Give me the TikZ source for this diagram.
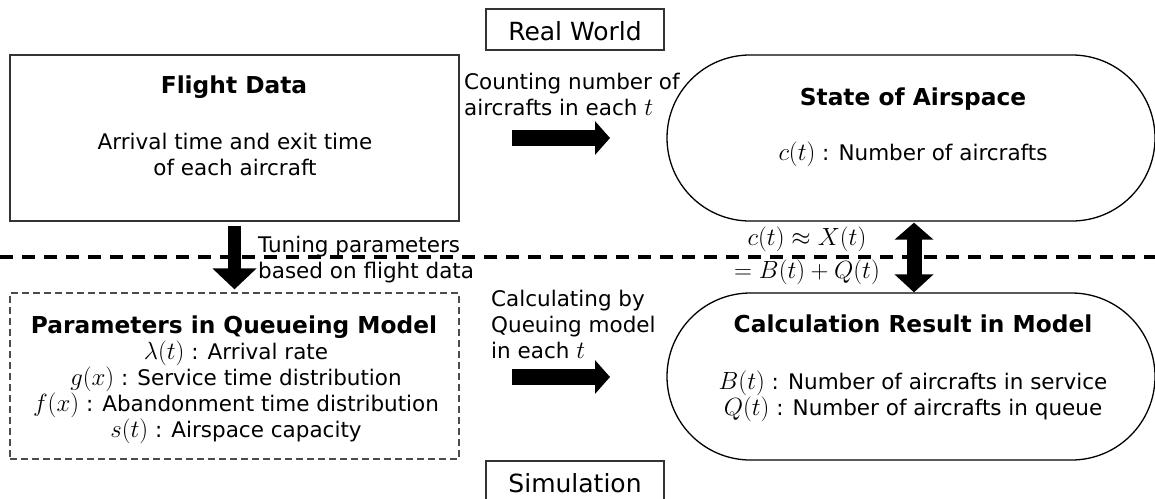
\documentclass[tikz,border=0pt]{standalone}
\usepackage{fontspec}
\setmainfont{DejaVu Sans}
\usetikzlibrary{arrows.meta,shapes.misc}
\newcommand{\mth}[1]{{\fontsize{25}{26}\selectfont$#1$}}
\begin{document}
\begin{tikzpicture}[x=1pt,y=-1pt,
  body/.style={font=\fontsize{21.5}{26}\selectfont, inner sep=0pt},
  ttl/.style={font=\fontsize{23.3}{27}\selectfont\bfseries, inner sep=0pt},
  lbl/.style={font=\fontsize{25}{28}\selectfont, inner sep=0pt},
  eqs/.style={font=\fontsize{27}{33}\selectfont, inner sep=0pt},
  frame/.style={draw=black!80, line width=1.3pt, inner sep=0pt},
  dframe/.style={draw=black!70, line width=1.3pt, dash pattern=on 7pt off 4pt, inner sep=0pt},
  stad/.style={draw, line width=1.3pt, rounded rectangle, minimum width=488pt, minimum height=166pt, inner sep=0pt},
  rarrow/.style={line width=16pt, -{Triangle[length=15pt,width=33pt]}},
  darrow/.style={line width=13pt, -{Triangle[length=21pt,width=43pt]}},
  dblarrow/.style={line width=15pt, {Triangle[length=17pt,width=38pt]}-{Triangle[length=18pt,width=38pt]}},
  divider/.style={line width=4pt, dash pattern=on 13pt off 9pt}
]
\useasboundingbox (0,0) rectangle (1155,498);

% divider
\coordinate (dl) at (0,257);
\coordinate (dr) at (1155,257);
\draw[divider] (dl) -- (dr);

% boxes
\node[frame, minimum width=449pt, minimum height=166pt] (fd) at (234.5,138) {};
\node[dframe, minimum width=449pt, minimum height=166pt] (pq) at (234.5,376) {};
\node[frame, minimum width=178pt, minimum height=41pt] (rw) at (575,29.5) {};
\node[frame, minimum width=178pt, minimum height=41pt] (sim) at (575,481.5) {};
\node[stad] (sa) at (911,138) {};
\node[stad, minimum height=167pt] (cr) at (911,376.5) {};

% labels (base anchor = baseline of the last line)
\node[lbl, anchor=base] (rwt) at (575,40) {Real World};
\node[lbl, anchor=base] (simt) at (575,492) {Simulation};

\node[ttl, anchor=base] (fdt) at (234,93) {Flight Data};
\node[body, anchor=base, align=center] (fds) at (235,175) {Arrival time and exit time\\of each aircraft};

\node[body, anchor=base west, align=left] (cnt) at (464,115) {Counting number of\\aircrafts in each \mth{t}};

\node[ttl, anchor=base] (sat) at (913,105) {State of Airspace};
\node[body, anchor=base] (sas) at (913,160) {\mth{c(t)} : Number of aircrafts};

\node[eqs, anchor=base, align=center] (eq) at (807,278) {$c(t)\approx X(t)$\\$=B(t)+Q(t)$};

\node[body, anchor=base west, align=left] (tun) at (258,278) {Tuning parameters\\based on flight data};

\node[ttl, anchor=base] (pqt) at (234,333) {Parameters in Queueing Model};
\node[body, anchor=base, align=center] (pqs) at (236,437) {\mth{\lambda(t)} : Arrival rate\\\mth{g(x)} : Service time distribution\\\mth{f(x)} : Abandonment time distribution\\\mth{s(t)} : Airspace capacity};

\node[body, anchor=base west, align=left] (calc) at (491,358) {Calculating by\\Queuing model\\in each \mth{t}};

\node[ttl, anchor=base] (crt) at (913,332) {Calculation Result in Model};
\node[body, anchor=base, align=center] (crs) at (913,415) {\mth{B(t)} : Number of aircrafts in service\\\mth{Q(t)} : Number of aircrafts in queue};

% arrows
\coordinate (r1a) at (512,138);
\coordinate (r1b) at (610,138);
\coordinate (r2a) at (512,377);
\coordinate (r2b) at (610,377);
\coordinate (dx) at (914,0);
\draw[rarrow] (r1a) -- (r1b);
\draw[rarrow] (r2a) -- (r2b);
\draw[darrow, shorten <=4pt, shorten >=3pt] (fd.south) -- (pq.north);
\draw[dblarrow, shorten <=1pt] (sa.south -| dx) -- (cr.north -| dx);
\end{tikzpicture}
\end{document}
